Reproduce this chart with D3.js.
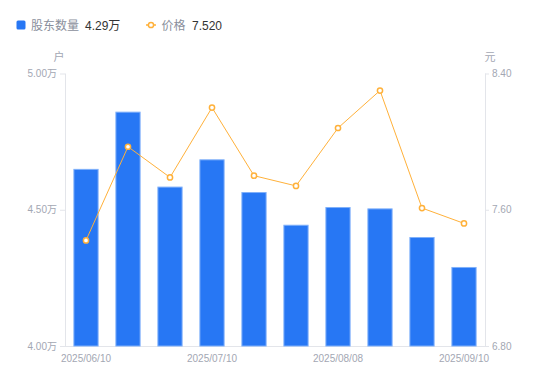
<!DOCTYPE html>
<html>
<head>
<meta charset="utf-8">
<script src="https://cdn.jsdelivr.net/npm/d3@7"></script>
<style>
  body { margin: 0; background: #fff; }
  #chart { width: 550px; height: 381px; }
  text { font-family: "Liberation Sans", "Noto Sans CJK SC", sans-serif; }
</style>
</head>
<body>
<div id="chart"></div>
<script>
// data
var dates = ["2025/06/10", "2025/06/20", "2025/06/30", "2025/07/10", "2025/07/20",
             "2025/07/31", "2025/08/08", "2025/08/20", "2025/08/29", "2025/09/10"];
var holders = [4.65, 4.86, 4.585, 4.685, 4.565, 4.445, 4.51, 4.505, 4.40, 4.29]; // 万户
var prices = [7.42, 7.97, 7.79, 8.20, 7.80, 7.74, 8.08, 8.30, 7.61, 7.52];
var labelDates = ["2025/06/10", "2025/07/10", "2025/08/08", "2025/09/10"];
var leftTicks = [4.0, 4.5, 5.0];
var rightTicks = [6.8, 7.6, 8.4];

var width = 550, height = 381;
var margin = {top: 73.5, right: 65, bottom: 35, left: 65};

var svg = d3.select("#chart")
    .append("svg")
    .attr("width", width)
    .attr("height", height);

var x = d3.scaleBand()
    .domain(dates)
    .range([margin.left, width - margin.right])
    .paddingInner(0.4)
    .paddingOuter(0.2);

var yL = d3.scaleLinear()
    .domain([4.0, 5.0])
    .range([height - margin.bottom, margin.top]);

var yR = d3.scaleLinear()
    .domain([6.8, 8.4])
    .range([height - margin.bottom, margin.top]);

var axisColor = "#e3e5ea",
    tickText = "#a3a7b3",
    blue = "#2777f4",
    orange = "#ffb13a";

// left axis
var gl = svg.append("g")
    .attr("transform", "translate(" + margin.left + ",0)")
    .call(d3.axisLeft(yL).tickValues(leftTicks).tickSize(5).tickPadding(3)
        .tickFormat(function (d) { return d3.format(".2f")(d) + "万"; }));

// right axis
var gr = svg.append("g")
    .attr("transform", "translate(" + (width - margin.right) + ",0)")
    .call(d3.axisRight(yR).tickValues(rightTicks).tickSize(4).tickPadding(3)
        .tickFormat(d3.format(".2f")));

[gl, gr].forEach(function (g) {
    // plain vertical line, no end caps
    g.select(".domain")
        .attr("stroke", axisColor)
        .attr("d", "M0.5," + margin.top + "V" + (height - margin.bottom));
    g.selectAll(".tick line").attr("stroke", axisColor);
    g.selectAll(".tick text")
        .attr("fill", tickText)
        .style("font-size", "10px");
});

// bottom axis line
svg.append("line")
    .attr("x1", margin.left)
    .attr("x2", width - margin.right)
    .attr("y1", yL(4.0) + 0.5)
    .attr("y2", yL(4.0) + 0.5)
    .attr("stroke", axisColor);

// x labels
svg.selectAll(".xlab")
    .data(labelDates)
    .enter()
    .append("text")
    .attr("class", "xlab")
    .attr("x", function (d) { return x(d) + x.bandwidth() / 2; })
    .attr("y", yL(4.0) + 16)
    .attr("text-anchor", "middle")
    .attr("fill", tickText)
    .style("font-size", "10px")
    .text(function (d) { return d; });

// unit labels
svg.append("text")
    .attr("x", 59).attr("y", 61)
    .attr("text-anchor", "middle")
    .attr("fill", tickText)
    .style("font-size", "11px")
    .text("户");
svg.append("text")
    .attr("x", 490).attr("y", 61)
    .attr("text-anchor", "middle")
    .attr("fill", tickText)
    .style("font-size", "11px")
    .text("元");

// bars
svg.selectAll(".bar")
    .data(holders)
    .enter()
    .append("rect")
    .attr("class", "bar")
    .attr("x", function (d, i) { return x(dates[i]) + 0.5; })
    .attr("y", function (d) { return yL(d) + 0.5; })
    .attr("width", x.bandwidth() - 1)
    .attr("height", function (d) { return yL(4.0) - yL(d) - 0.5; })
    .attr("fill", blue)
    .attr("stroke", "#7fb0fa")
    .attr("stroke-width", 1);

// price line
var line = d3.line()
    .x(function (d, i) { return x(dates[i]) + x.bandwidth() / 2; })
    .y(function (d) { return yR(d); });

svg.append("path")
    .datum(prices)
    .attr("d", line)
    .attr("fill", "none")
    .attr("stroke", orange)
    .attr("stroke-width", 1);

svg.selectAll(".pt")
    .data(prices)
    .enter()
    .append("circle")
    .attr("class", "pt")
    .attr("cx", function (d, i) { return x(dates[i]) + x.bandwidth() / 2; })
    .attr("cy", function (d) { return yR(d); })
    .attr("r", 2.6)
    .attr("fill", "#fff")
    .attr("stroke", orange)
    .attr("stroke-width", 1.5);

// legend
var lg = svg.append("g");
lg.append("rect")
    .attr("x", 16.5).attr("y", 20.5)
    .attr("width", 9).attr("height", 9)
    .attr("rx", 1.5)
    .attr("fill", blue);
lg.append("text")
    .attr("x", 31).attr("y", 29.5)
    .attr("fill", "#8a8f9c")
    .style("font-size", "12px")
    .text("股东数量");
lg.append("text")
    .attr("x", 85).attr("y", 29.5)
    .attr("fill", "#333")
    .style("font-size", "12px")
    .text(d3.format(".2f")(holders[holders.length - 1]) + "万");

lg.append("line")
    .attr("x1", 146).attr("x2", 156)
    .attr("y1", 25).attr("y2", 25)
    .attr("stroke", orange)
    .attr("stroke-width", 1.5);
lg.append("circle")
    .attr("cx", 151).attr("cy", 25)
    .attr("r", 2.6)
    .attr("fill", "#fff")
    .attr("stroke", orange)
    .attr("stroke-width", 1.5);
lg.append("text")
    .attr("x", 161.5).attr("y", 29.5)
    .attr("fill", "#8a8f9c")
    .style("font-size", "12px")
    .text("价格");
lg.append("text")
    .attr("x", 192).attr("y", 29.5)
    .attr("fill", "#333")
    .style("font-size", "12px")
    .text(d3.format(".3f")(prices[prices.length - 1]));
</script>
</body>
</html>
